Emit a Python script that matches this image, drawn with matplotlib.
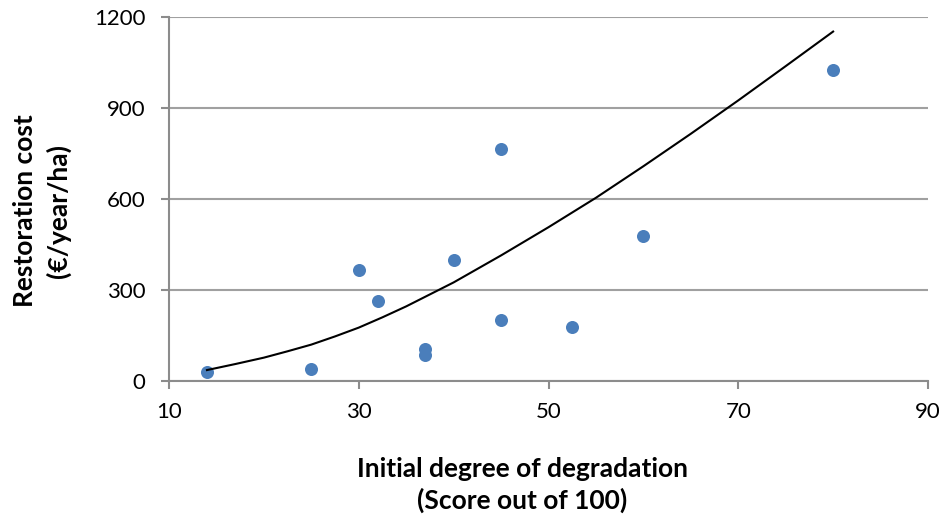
import numpy as np
import matplotlib.pyplot as plt

plt.rcParams['font.family'] = ['Lato', 'DejaVu Sans']

# Initial degree of degradation (score out of 100) and restoration cost (EUR/year/ha)
degradation = [14, 25, 30, 32, 37, 37, 40, 45, 45, 52.5, 60, 80]
cost = [30, 40, 366, 263, 105, 87, 400, 766, 201, 177, 479, 1025]

# trend curve
trend_x = [14, 17, 20, 22.5, 25, 27.5, 30, 32.5, 35, 40, 45, 50, 55, 60, 65, 70, 75, 80]
trend_y = [36, 56, 77, 98, 120, 147, 176, 210, 246, 325, 414, 507, 604, 708, 815, 925, 1038, 1152]

x_ticks = [10, 30, 50, 70, 90]
y_ticks = [0, 300, 600, 900, 1200]

fig = plt.figure(figsize=(9.46, 5.14), dpi=100)
ax = fig.add_axes([169 / 946, 1 - 381 / 514, (928 - 169) / 946, (381 - 17) / 514])

ax.scatter(degradation, cost, s=88, color='#4a7ebb', zorder=3, linewidths=0)
ax.plot(trend_x, trend_y, color='black', lw=1.5, zorder=4, solid_joinstyle='round')

ax.set_xlim(10, 90)
ax.set_ylim(0, 1200)
ax.set_xticks(x_ticks)
ax.set_yticks(y_ticks)
ax.yaxis.grid(True, color='#a0a0a0', lw=1.5)
ax.set_axisbelow(True)
for side in ['top', 'right']:
    ax.spines[side].set_visible(False)
for side in ['left', 'bottom']:
    ax.spines[side].set_color('#8c8c8c')
    ax.spines[side].set_linewidth(1.5)
ax.tick_params(axis='both', direction='out', length=6, width=1.5, color='#8c8c8c',
               labelsize=16)
ax.tick_params(axis='y', pad=11)
ax.tick_params(axis='x', pad=9)

fig.text(522 / 946, 1 - 485 / 514, 'Initial degree of degradation\n(Score out of 100)',
         ha='center', va='center', fontsize=19, fontweight='bold', linespacing=1.3)
fig.text(42 / 946, 1 - 211 / 514, 'Restoration cost\n(€/year/ha)', rotation=90,
         ha='center', va='center', fontsize=19, fontweight='bold', linespacing=1.4)

fig.savefig('out.png', dpi=100)
